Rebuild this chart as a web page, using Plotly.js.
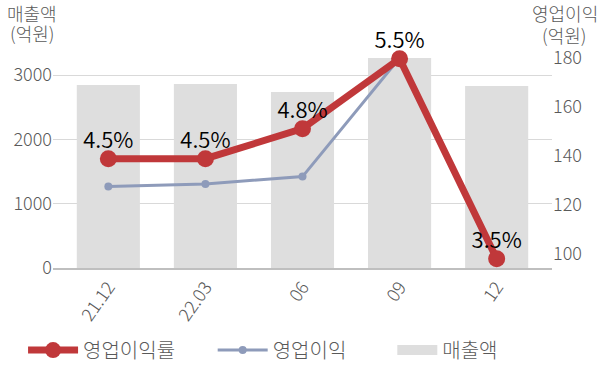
<!DOCTYPE html>
<html>
<head>
<meta charset="utf-8">
<script src="https://cdn.plot.ly/plotly-3.0.1.min.js"></script>
<style>html,body{margin:0;padding:0;background:#fff;}#chart{width:600px;height:383px;}</style>
</head>
<body>
<div id="chart"></div>
<script>
const categories = ['21.12', '22.03', '06', '09', '12'];
const sales = [2846, 2862, 2737, 3266, 2830];          // 매출액 (억원)
const opProfit = [127.6, 128.6, 131.6, 180, 99];        // 영업이익 (억원)
const opMargin = [4.5, 4.5, 4.8, 5.5, 3.5];             // 영업이익률 (%)
const marginLabels = ['4.5%', '4.5%', '4.8%', '5.5%', '3.5%'];
const leftTicks = [0, 1000, 2000, 3000];
const rightTicks = [100, 120, 140, 160, 180];

const FONT = '"Noto Sans CJK KR", "Noto Sans", sans-serif';
const GRAY = '#595959';
const W = 300;

const traces = [
  {
    type: 'bar', name: '매출액', x: categories, y: sales,
    marker: {color: '#DEDEDE'}, width: 0.65, yaxis: 'y',
    showlegend: false, hoverinfo: 'skip'
  },
  {
    type: 'scatter', mode: 'lines+markers', name: '영업이익', x: categories, y: opProfit,
    yaxis: 'y2', line: {color: '#8E9BBA', width: 3}, marker: {color: '#8E9BBA', size: 8},
    legend: 'legend2'
  },
  {
    type: 'scatter', mode: 'lines+markers', name: '영업이익률', x: categories, y: opMargin,
    yaxis: 'y3', line: {color: '#C0383A', width: 7}, marker: {color: '#C0383A', size: 17},
    legend: 'legend', cliponaxis: false
  },
  {
    // data labels for 영업이익률
    type: 'scatter', mode: 'markers+text', name: '영업이익률 라벨', x: categories, y: opMargin,
    yaxis: 'y3', marker: {size: 6, opacity: 0}, text: marginLabels,
    textposition: 'top center', textfont: {family: FONT, size: 22, color: '#000', weight: 350},
    showlegend: false, cliponaxis: false, hoverinfo: 'skip'
  },
  {
    // legend entry for the bars (wide gray swatch)
    type: 'scatter', mode: 'lines', name: '매출액', x: [null], y: [null],
    line: {color: '#DEDEDE', width: 15}, legend: 'legend3', hoverinfo: 'skip'
  }
];

const legendBase = {
  orientation: 'h', yanchor: 'middle', y: -0.36, xanchor: 'left',
  font: {family: FONT, size: 20, color: GRAY, weight: W}, itemwidth: 50,
  bgcolor: 'rgba(0,0,0,0)'
};

const axTitle = (text, x, y, xanchor) => ({
  text: text, xref: 'paper', yref: 'paper', x: x, y: y, xanchor: xanchor,
  yanchor: 'middle', showarrow: false, borderpad: 0,
  font: {family: FONT, size: 18, color: GRAY, weight: W}
});

const layout = {
  width: 600, height: 383,
  margin: {l: 53, r: 48, t: 40, b: 115},
  paper_bgcolor: '#fff', plot_bgcolor: '#fff',
  font: {family: FONT, size: 18, color: GRAY, weight: W},
  showlegend: true,
  legend: Object.assign({}, legendBase, {x: -0.06}),
  legend2: Object.assign({}, legendBase, {x: 0.32}),
  legend3: Object.assign({}, legendBase, {x: 0.68, itemwidth: 40}),
  xaxis: {
    type: 'category', range: [-0.57, 4.57], tickangle: -55,
    showline: true, linecolor: '#BFBFBF', linewidth: 1.5, ticks: '',
    tickfont: {family: FONT, size: 18, color: GRAY, weight: W}, showgrid: false
  },
  yaxis: {
    range: [0, 3546], tickvals: leftTicks, ticktext: leftTicks.map(String),
    showgrid: true, gridcolor: '#D9D9D9', gridwidth: 1, zeroline: false,
    tickfont: {family: FONT, size: 18, color: GRAY, weight: W}, ticks: ''
  },
  yaxis2: {
    overlaying: 'y', side: 'right', range: [94.29, 187.35],
    tickvals: rightTicks, ticktext: rightTicks.map(String),
    showgrid: false, zeroline: false,
    tickfont: {family: FONT, size: 18, color: GRAY, weight: W}
  },
  yaxis3: {
    overlaying: 'y', range: [3.407, 5.687], showgrid: false, zeroline: false,
    showline: false, showticklabels: false, ticks: ''
  },
  annotations: [
    axTitle('매출액', -0.094, 1.12, 'left'),
    axTitle('(억원)', -0.088, 1.03, 'left'),
    axTitle('영업이익', 1.094, 1.12, 'right'),
    axTitle('(억원)', 1.07, 1.02, 'right')
  ]
};

Plotly.newPlot('chart', traces, layout, {displayModeBar: false, staticPlot: true});
</script>
</body>
</html>
